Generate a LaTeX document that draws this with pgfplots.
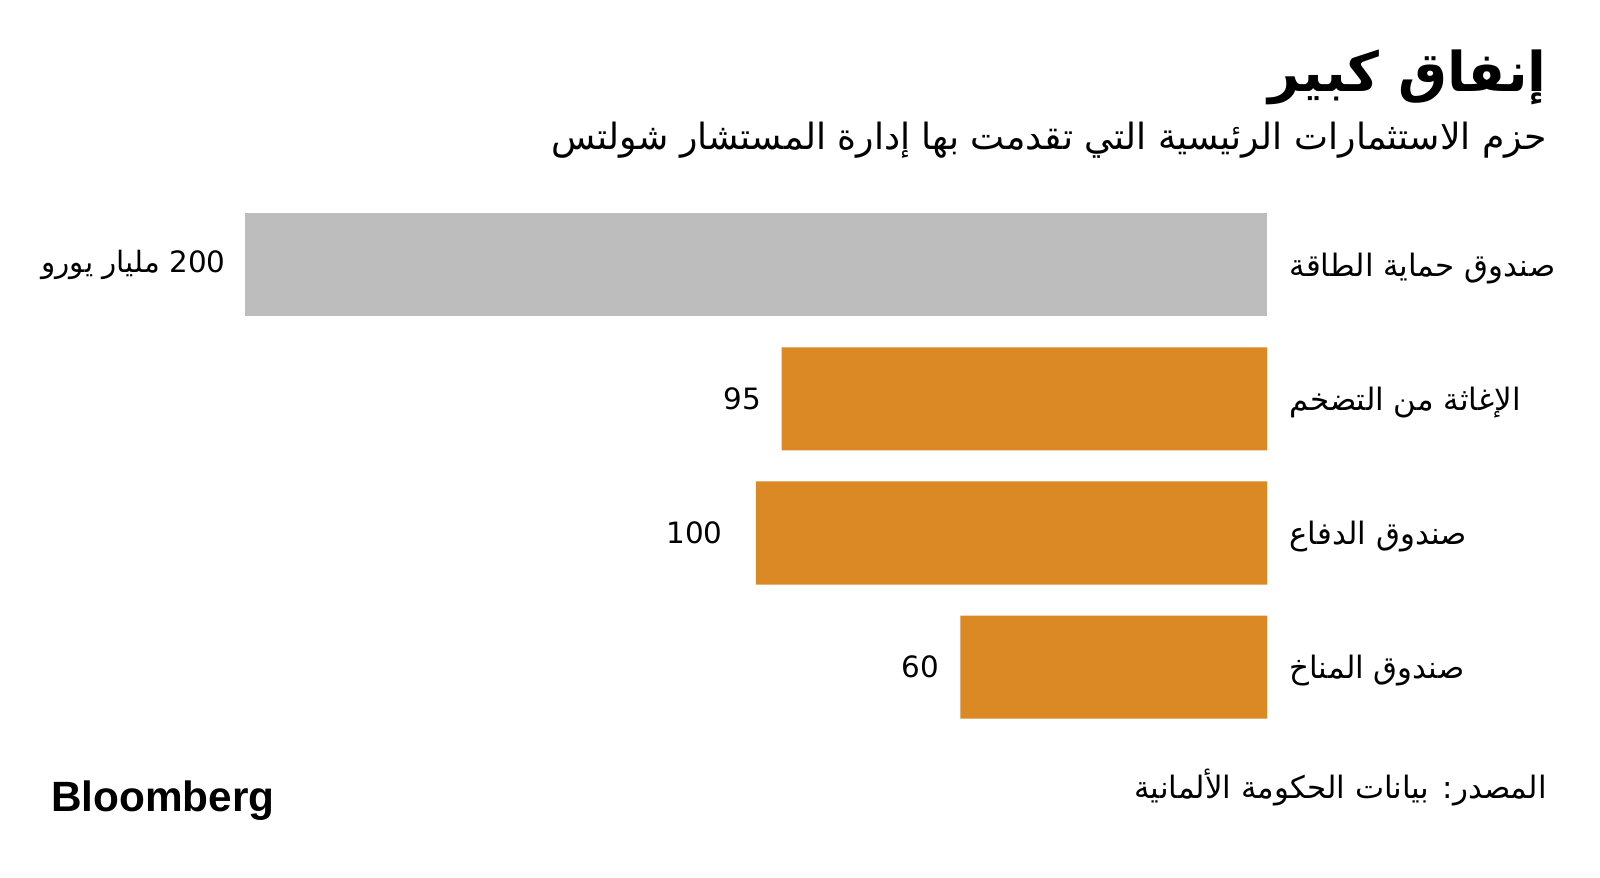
\documentclass[border=0pt]{standalone}
\usepackage{fontspec}
\usepackage{pgfplots}
\pgfplotsset{compat=1.18}
\TeXXeTstate=1
\newfontfamily\arabicfont[Script=Arabic]{DejaVu Sans}
\newfontfamily\latinfont{Liberation Sans}
\definecolor{barorange}{RGB}{219,137,36}
\definecolor{bargray}{RGB}{189,189,189}
\begin{document}
\begin{tikzpicture}[x=1bp,y=1bp]
\path[fill=white] (0,0) rectangle (1600,877);
\begin{axis}[
  at={(245bp,143bp)}, anchor=south west, scale only axis,
  width=1022bp, height=536bp,
  x dir=reverse, y dir=reverse,
  xmin=0, xmax=200, ymin=0.5, ymax=4.5,
  axis lines=none, xbar, bar width=103bp, bar shift=0pt,
  clip=false]
\addplot[fill=bargray, draw=none, bar shift=0pt] coordinates {(200,1)};
\addplot[fill=barorange, draw=none, bar shift=0pt] coordinates {(95,2) (100,3) (60,4)};
\node[anchor=east, xshift=-16bp, font=\fontsize{29.5}{34}\selectfont\arabicfont] at (axis cs:200,1) {\beginR\beginL 200\endL{} مليار يورو\endR};
\node[anchor=east, xshift=-17bp, font=\fontsize{29.5}{34}\selectfont\arabicfont] at (axis cs:95,2) {95};
\node[anchor=east, xshift=-30bp, font=\fontsize{29.5}{34}\selectfont\arabicfont] at (axis cs:100,3) {100};
\node[anchor=east, xshift=-18bp, font=\fontsize{29.5}{34}\selectfont\arabicfont] at (axis cs:60,4) {60};
\node[anchor=west, xshift=19bp, yshift=-4bp, font=\fontsize{31}{36}\selectfont\arabicfont] at (axis cs:0,1) {\beginR صندوق حماية الطاقة\endR};
\node[anchor=west, xshift=19bp, yshift=-4bp, font=\fontsize{31}{36}\selectfont\arabicfont] at (axis cs:0,2) {\beginR الإغاثة من التضخم\endR};
\node[anchor=west, xshift=19bp, yshift=-4bp, font=\fontsize{31}{36}\selectfont\arabicfont] at (axis cs:0,3) {\beginR صندوق الدفاع\endR};
\node[anchor=west, xshift=19bp, yshift=-4bp, font=\fontsize{31}{36}\selectfont\arabicfont] at (axis cs:0,4) {\beginR صندوق المناخ\endR};
\end{axis}
\node[anchor=base east, inner sep=0pt, font=\fontsize{55}{64}\selectfont\arabicfont\bfseries] at (1547,785) {\beginR إنفاق كبير\endR};
\node[anchor=base east, inner sep=0pt, font=\fontsize{36.3}{42}\selectfont\arabicfont] at (1547,727) {\beginR حزم الاستثمارات الرئيسية التي تقدمت بها إدارة المستشار شولتس\endR};
\node[anchor=base east, inner sep=0pt, font=\fontsize{31}{36}\selectfont\arabicfont] at (1547,78) {\beginR المصدر: بيانات الحكومة الألمانية\endR};
\node[anchor=base west, inner sep=0pt, font=\fontsize{42.5}{48}\selectfont\latinfont\bfseries] at (51,66) {Bloomberg};
\end{tikzpicture}
\end{document}
